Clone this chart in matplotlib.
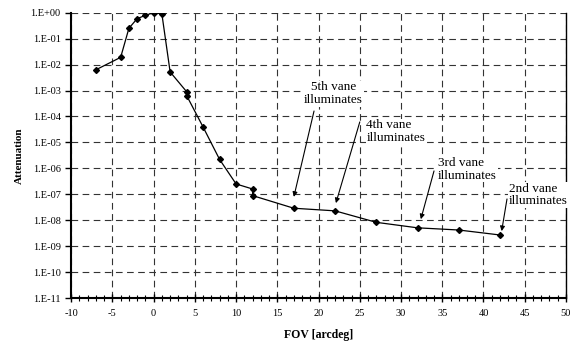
import matplotlib
matplotlib.use("Agg")
import matplotlib.pyplot as plt
from matplotlib.ticker import MultipleLocator, FuncFormatter, LogLocator, NullLocator
import numpy as np

# measured attenuation vs field of view
fov = [-7, -4, -3, -2, -1, 0, 1, 2, 4, 4, 6, 8, 10, 12, 12, 17, 22, 27, 32, 37, 42]
att = [6.3e-3, 1.9e-2, 0.25, 0.59, 0.79, 1.0, 0.89, 5.2e-3, 9e-4, 6.4e-4, 3.9e-5,
       2.2e-6, 2.5e-7, 1.6e-7, 8.9e-8, 2.9e-8, 2.3e-8, 8.3e-9, 5.1e-9, 4.2e-9, 2.7e-9]

# annotations: label, text anchor, arrow tail, arrow tip
notes = ["5th vane\nilluminates", "4th vane\nilluminates",
         "3rd vane\nilluminates", "2nd vane\nilluminates"]
note_text = [(21.8, 10**-3.12), (25.8, 10**-4.58), (34.5, 10**-6.04), (43.1, 10**-7.03)]
note_tail = [(19.45, 10**-3.79), (25.0, 10**-4.21), (34.0, 10**-6.10), (42.85, 10**-7.18)]
note_tip = [(17.0, 10**-7.10), (22.1, 10**-7.34), (32.4, 10**-7.96), (42.2, 10**-8.42)]
note_ha = ["center", "left", "left", "left"]

plt.rcParams["font.family"] = ["Liberation Serif", "DejaVu Serif"]
plt.rcParams["axes.unicode_minus"] = False

fig = plt.figure(figsize=(5.74, 3.43), dpi=100)
ax = fig.add_axes([0.124, 0.131, 0.862, 0.832])

ax.plot(fov, att, color="black", lw=0.9, marker="D", ms=3, zorder=3)

ax.set_yscale("log")
ax.set_xlim(-10, 50)
ax.set_ylim(1e-11, 1)

ax.xaxis.set_major_locator(MultipleLocator(5))
ax.xaxis.set_minor_locator(MultipleLocator(1))
ax.yaxis.set_major_locator(LogLocator(base=10, numticks=20))
ax.yaxis.set_minor_locator(NullLocator())
ax.yaxis.set_major_formatter(FuncFormatter(lambda v, p: "1.E%+03d" % int(round(np.log10(v)))))

ax.grid(True, which="major", color="#333333", lw=0.8, ls=(0, (6, 4)))
ax.set_axisbelow(True)

for s in ["left", "bottom"]:
    ax.spines[s].set_linewidth(1.5)
ax.spines["right"].set_linewidth(1.0)
ax.spines["top"].set_visible(False)

ax.tick_params(axis="x", which="major", direction="inout", length=6, width=1, labelsize=7.5, pad=5)
ax.tick_params(axis="x", which="minor", direction="inout", length=4, width=0.8)
ax.tick_params(axis="y", which="major", direction="out", length=4, width=1, labelsize=7.5)

ax.set_xlabel("FOV [arcdeg]", fontsize=8.5, fontweight="bold", labelpad=8)
ax.set_ylabel("Attenuation", fontsize=8, fontweight="bold", labelpad=5)

for lab, tp, tl, tip, ha in zip(notes, note_text, note_tail, note_tip, note_ha):
    ax.text(tp[0], tp[1], lab, ha=ha, va="center", fontsize=9.5, linespacing=1.05,
            bbox=dict(fc="white", ec="none", pad=0.5), zorder=4)
    ax.annotate("", xy=tip, xytext=tl,
                arrowprops=dict(arrowstyle="-|>", color="black", lw=0.8,
                                mutation_scale=7, shrinkA=0, shrinkB=0), zorder=5)

fig.savefig("out.png", dpi=100)
